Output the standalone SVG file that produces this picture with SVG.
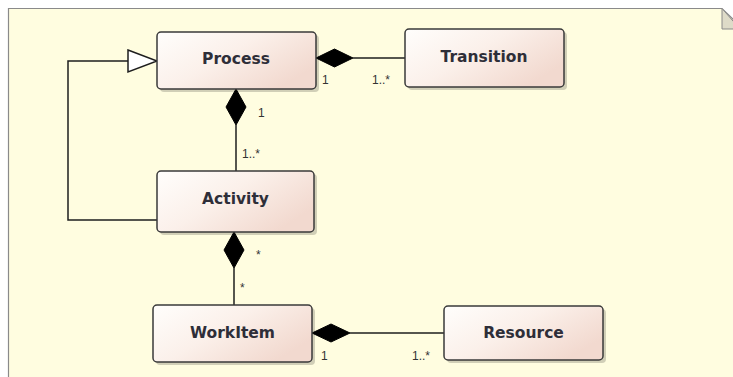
<svg xmlns="http://www.w3.org/2000/svg" width="733" height="377" viewBox="0 0 733 377">
<style>
.node rect.box{fill:url(#nodeFill);stroke:#3a3a3a;stroke-width:1.5}
.node rect.shadow{fill:#000;opacity:0.18}
.node text{font-family:"DejaVu Sans",sans-serif;font-weight:bold;font-size:15.5px;fill:#2e2e38;text-anchor:middle}
.conn line,.conn polyline{stroke:#1e1e1e;stroke-width:1.5;fill:none}
.diamond{fill:#000;stroke:#000;stroke-width:1}
.hollow{fill:#fff;stroke:#1e1e1e;stroke-width:1.5}
.lbl{font-family:"Liberation Sans",Arial,sans-serif;font-size:12px;fill:#333}
</style>
<defs>
<linearGradient id="nodeFill" x1="0" y1="0" x2="1" y2="0.6">
<stop offset="0" stop-color="#fffefc"/>
<stop offset="0.5" stop-color="#fbf0ea"/>
<stop offset="1" stop-color="#f2d9cf"/>
</linearGradient>
</defs>
<rect x="0" y="0" width="733" height="377" fill="#fff"/>
<g id="panel">
<path d="M8.5,8.5 H722 L740,26 V380 H8.5 Z" fill="#fffde0" stroke="#8a8a8a" stroke-width="1.2"/>
<path d="M722,8.5 V29 H740 Z" fill="#dedbc8" stroke="#8a8a8a" stroke-width="1"/>
</g>
<g class="conn" id="connectors">
<polyline points="157,220 68,220 68,61 128,61"/>
<polygon class="hollow" points="128,50 157,61 128,72"/>
<line x1="353" y1="58" x2="405" y2="58"/>
<polygon class="diamond" points="316,58 334.5,49 353,58 334.5,67"/>
<line x1="236" y1="125" x2="236" y2="171"/>
<polygon class="diamond" points="236,89 226,107 236,125 246,107"/>
<line x1="234" y1="268" x2="234" y2="305"/>
<polygon class="diamond" points="234,232 224,250 234,268 244,250"/>
<line x1="350" y1="333" x2="444" y2="333"/>
<polygon class="diamond" points="312,333 331,324 350,333 331,342"/>
<text class="lbl" x="322" y="84">1</text>
<text class="lbl" x="372" y="84">1..*</text>
<text class="lbl" x="258" y="117">1</text>
<text class="lbl" x="242" y="158">1..*</text>
<text class="lbl" x="256" y="259">*</text>
<text class="lbl" x="240" y="292">*</text>
<text class="lbl" x="321" y="360">1</text>
<text class="lbl" x="412" y="360">1..*</text>
</g>
<g class="node" id="process">
<rect class="shadow" x="160" y="35" width="159" height="57" rx="4"/>
<rect class="box" x="157" y="32" width="159" height="57" rx="4"/>
<text x="236" y="64">Process</text>
</g>
<g class="node" id="transition">
<rect class="shadow" x="408" y="32" width="159" height="58" rx="4"/>
<rect class="box" x="405" y="29" width="159" height="58" rx="4"/>
<text x="484" y="62">Transition</text>
</g>
<g class="node" id="activity">
<rect class="shadow" x="160" y="174" width="157" height="61" rx="4"/>
<rect class="box" x="157" y="171" width="157" height="61" rx="4"/>
<text x="235.5" y="204">Activity</text>
</g>
<g class="node" id="workitem">
<rect class="shadow" x="156" y="308" width="159" height="57" rx="4"/>
<rect class="box" x="153" y="305" width="159" height="57" rx="4"/>
<text x="232.5" y="338">WorkItem</text>
</g>
<g class="node" id="resource">
<rect class="shadow" x="447" y="309" width="159" height="54" rx="4"/>
<rect class="box" x="444" y="306" width="159" height="54" rx="4"/>
<text x="523.5" y="338">Resource</text>
</g>
</svg>
